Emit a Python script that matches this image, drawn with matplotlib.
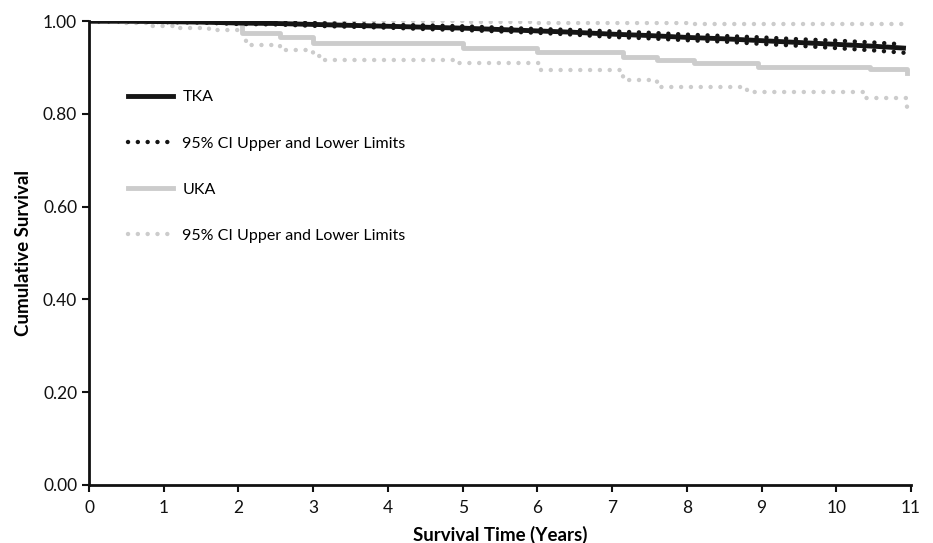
import numpy as np
import matplotlib.pyplot as plt

plt.rcParams['font.family'] = ['Lato', 'DejaVu Sans']

# Kaplan-Meier survival estimates
tka_t = [0, 0.5, 1, 1.5, 2, 2.5, 3, 3.5, 4, 4.5, 5, 5.5, 6, 6.5, 7, 7.5, 8, 8.5, 9, 9.5, 10, 10.5, 10.9]
tka_s = [1.0, 1.0, 0.999, 0.998, 0.996, 0.995, 0.993, 0.991, 0.989, 0.987, 0.985, 0.982, 0.979, 0.976,
         0.972, 0.969, 0.965, 0.962, 0.958, 0.954, 0.950, 0.946, 0.942]
tka_hi = [1.0, 1.0, 1.0, 0.999, 0.998, 0.997, 0.996, 0.994, 0.992, 0.991, 0.989, 0.986, 0.983, 0.981,
          0.978, 0.975, 0.971, 0.968, 0.965, 0.961, 0.958, 0.954, 0.950]
tka_lo = [1.0, 1.0, 0.998, 0.997, 0.994, 0.993, 0.990, 0.988, 0.986, 0.983, 0.981, 0.978, 0.975, 0.971,
          0.966, 0.963, 0.959, 0.956, 0.951, 0.947, 0.942, 0.937, 0.932]

uka_t = [0, 2.05, 2.55, 3.0, 5.0, 6.0, 7.15, 7.6, 8.1, 8.95, 10.45, 10.95]
uka_s = [1.0, 0.974, 0.966, 0.953, 0.942, 0.933, 0.922, 0.916, 0.909, 0.902, 0.897, 0.889]

uka_lo_t = [0, 0.4, 0.8, 1.2, 1.6, 2.0, 2.1, 2.55, 3.0, 3.1, 4.95, 6.05, 7.15, 7.6, 8.8, 10.4, 10.95]
uka_lo = [1.0, 0.995, 0.99, 0.985, 0.98, 0.975, 0.948, 0.938, 0.924, 0.916, 0.909, 0.894, 0.873, 0.859,
          0.848, 0.834, 0.815]

uka_hi_t = [0, 5.0, 6.0, 8.0, 10.95]
uka_hi = [1.0, 0.998, 0.995, 0.993, 0.991]

black = '#151515'
grey = '#cccccc'
dots = (0, (0.01, 2.2))

fig = plt.figure(figsize=(9.33, 5.43), dpi=100)
ax = fig.add_axes([0.0954, 0.107, 0.881, 0.854])

ax.plot(uka_hi_t, uka_hi, color=grey, lw=3.2, ls=dots, dash_capstyle='round', drawstyle='steps-post')
ax.plot(uka_lo_t, uka_lo, color=grey, lw=3.2, ls=dots, dash_capstyle='round', drawstyle='steps-post',
        label='95% CI Upper and Lower Limits')
ax.plot(uka_t, uka_s, color=grey, lw=3.5, drawstyle='steps-post', label='UKA')
ax.plot(tka_t, tka_hi, color=black, lw=3.2, ls=dots, dash_capstyle='round')
ax.plot(tka_t, tka_lo, color=black, lw=3.2, ls=dots, dash_capstyle='round',
        label='95% CI Upper and Lower Limits')
ax.plot(tka_t, tka_s, color=black, lw=3.5, label='TKA')

ax.set_xlim(0, 11)
ax.set_ylim(0, 1.0)
ax.set_xticks(range(0, 12))
ax.set_yticks(np.arange(0, 1.01, 0.2))
ax.set_yticklabels(['%.2f' % v for v in np.arange(0, 1.01, 0.2)])
ax.tick_params(direction='out', length=5, width=1.5, labelsize=12.5, colors='#111111')
ax.tick_params(axis='x', pad=6)
for s in ['top', 'right']:
    ax.spines[s].set_visible(False)
for s in ['left', 'bottom']:
    ax.spines[s].set_linewidth(2)
    ax.spines[s].set_color('#111111')

ax.set_xlabel('Survival Time (Years)', fontsize=13.5, fontweight='bold', labelpad=7)
ax.set_ylabel('Cumulative Survival', fontsize=13.5, fontweight='bold', labelpad=8)

h, l = ax.get_legend_handles_labels()
order = [3, 2, 1, 0]
ax.legend([h[i] for i in order], [l[i] for i in order], loc='upper left',
          bbox_to_anchor=(0.03, 0.882), frameon=False, fontsize=11.5, handlelength=2.8,
          labelspacing=2.0, handletextpad=0.6)

fig.savefig('out.png', dpi=100)
